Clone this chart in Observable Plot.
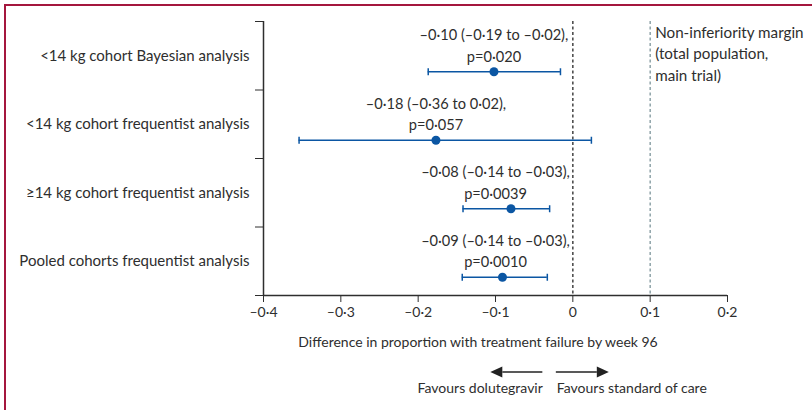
<!DOCTYPE html>
<html><head><meta charset="utf-8">
<script src="https://cdn.jsdelivr.net/npm/d3@7"></script>
<script src="https://cdn.jsdelivr.net/npm/@observablehq/plot@0.6"></script>
<style>
html,body{margin:0;padding:0;background:#fff;overflow:hidden;}
#wrap{position:relative;width:812px;height:410px;overflow:hidden;}
#border{position:absolute;left:4px;top:4px;width:900px;height:500px;border-left:2px solid #a4173d;border-top:2px solid #a4173d;pointer-events:none;}
#chart{position:absolute;left:0;top:0;}
</style></head><body>
<div id="wrap"><div id="border"></div><div id="chart"></div></div>
<script>
const categories = ["<14 kg cohort Bayesian analysis", "<14 kg cohort frequentist analysis", "≥14 kg cohort frequentist analysis", "Pooled cohorts frequentist analysis"];
const estimates = [-0.102, -0.177, -0.080, -0.091];
const lower = [-0.187, -0.354, -0.142, -0.143];
const upper = [-0.016, 0.024, -0.030, -0.033];
const ciLabels = ["–0·10 (–0·19 to –0·02),", "–0·18 (–0·36 to 0·02),", "–0·08 (–0·14 to –0·03),", "–0·09 (–0·14 to –0·03),"];
const pLabels = ["p=0·020", "p=0·057", "p=0·0039", "p=0·0010"];
const xTicks = [-0.4, -0.3, -0.2, -0.1, 0, 0.1, 0.2];
const nonInferiorityMargin = 0.1;
const marginLabel = "Non-inferiority margin\n(total population,\nmain trial)";
const xLabel = "Difference in proportion with treatment failure by week 96";
const favoursLeft = "Favours dolutegravir";
const favoursRight = "Favours standard of care";

const blue = "#0b56a3";
const ink = "#2e2e2e";
const font = "Lato, 'Open Sans', sans-serif";
const fmt = d => Math.abs(d) < 1e-9 ? "0" : (d < 0 ? "–" : "") + Math.abs(d).toFixed(1).replace(".", "·");

const rows = categories.map((c, i) => ({
  cat: c, row: i + 0.5, est: estimates[i], lo: lower[i], hi: upper[i],
  label: ciLabels[i] + "\n" + pLabels[i]
}));
const caps = rows.flatMap(r => [{x: r.lo, row: r.row}, {x: r.hi, row: r.row}]);

const capSymbol = {draw(ctx, size) { const h = Math.sqrt(size / Math.PI); ctx.moveTo(0, -h); ctx.lineTo(0, h); }};

const plot = Plot.plot({
  width: 812, height: 410,
  marginLeft: 263, marginRight: 85, marginTop: 21, marginBottom: 115,
  style: {fontFamily: font, fontSize: "14px", color: ink, background: "transparent", overflow: "visible"},
  x: {domain: [-0.4, 0.2], ticks: xTicks, tickFormat: fmt, tickSize: 7, tickPadding: 5, label: null},
  y: {domain: [0, 4], reverse: true, ticks: 4, tickFormat: () => "", tickSize: 8, label: null},
  marks: [
    Plot.ruleX([0], {stroke: "#444", strokeWidth: 1.5, strokeDasharray: "3,2.5"}),
    Plot.ruleX([nonInferiorityMargin], {stroke: "#7d959b", strokeWidth: 1.3, strokeDasharray: "3,2.5"}),
    Plot.ruleX([-0.4], {stroke: ink, strokeWidth: 1.5}),
    Plot.ruleY([4], {stroke: ink, strokeWidth: 1.5}),
    Plot.ruleY(rows, {y: "row", x1: "lo", x2: "hi", dy: 16, stroke: blue, strokeWidth: 1.5}),
    Plot.dot(caps, {x: "x", y: "row", dy: 16, symbol: capSymbol, r: 3.5, stroke: blue, strokeWidth: 1.5, fill: "none"}),
    Plot.dot(rows, {x: "est", y: "row", dy: 16, r: 4.5, fill: blue, stroke: "none"}),
    Plot.text(rows, {y: "row", text: "cat", frameAnchor: "left", textAnchor: "end", dx: -14, fill: ink, fontSize: 15}),
    Plot.text(rows, {x: d => Math.min(d.est, -0.1), y: "row", text: "label", lineAnchor: "middle", lineHeight: 1.45, dy: -11.5, fill: ink, fontSize: 14.6}),
    Plot.text([marginLabel], {x: () => nonInferiorityMargin, text: d => d, frameAnchor: "top", textAnchor: "start", lineAnchor: "top", lineHeight: 1.42, dx: 5, dy: 1, fill: ink, fontSize: 15.2}),
    Plot.text([xLabel], {text: d => d, frameAnchor: "bottom", dy: 47, dx: -17.5, lineAnchor: "middle", fill: ink}),
    Plot.text([{x: 0, t: favoursLeft}], {x: "x", text: "t", frameAnchor: "bottom", dy: 93, dx: -30, textAnchor: "end", lineAnchor: "middle", fill: ink}),
    Plot.text([{x: 0, t: favoursRight}], {x: "x", text: "t", frameAnchor: "bottom", dy: 93, dx: -16, textAnchor: "start", lineAnchor: "middle", fill: ink})
  ]
});
document.getElementById("chart").appendChild(plot);

// Direction arrows under the axis label, anchored on the zero line of the x scale
const x0 = plot.scale("x").apply(0);
const yArrow = 410 - 115 + 77;
const svg = d3.select(plot);
const g = svg.append("g").attr("fill", "#222").attr("stroke", "#222");
const arrows = [{from: x0 - 30, to: x0 - 82}, {from: x0 - 16.5, to: x0 + 36.5}];
for (const a of arrows) {
  const dir = Math.sign(a.to - a.from);
  const headLen = 12, headHalf = 5.5;
  g.append("line").attr("x1", a.from).attr("x2", a.to - dir * headLen).attr("y1", yArrow).attr("y2", yArrow).attr("stroke-width", 1.6);
  g.append("path").attr("stroke", "none")
    .attr("d", `M${a.to},${yArrow}L${a.to - dir * headLen},${yArrow - headHalf}L${a.to - dir * headLen},${yArrow + headHalf}Z`);
}
</script>
</body></html>
